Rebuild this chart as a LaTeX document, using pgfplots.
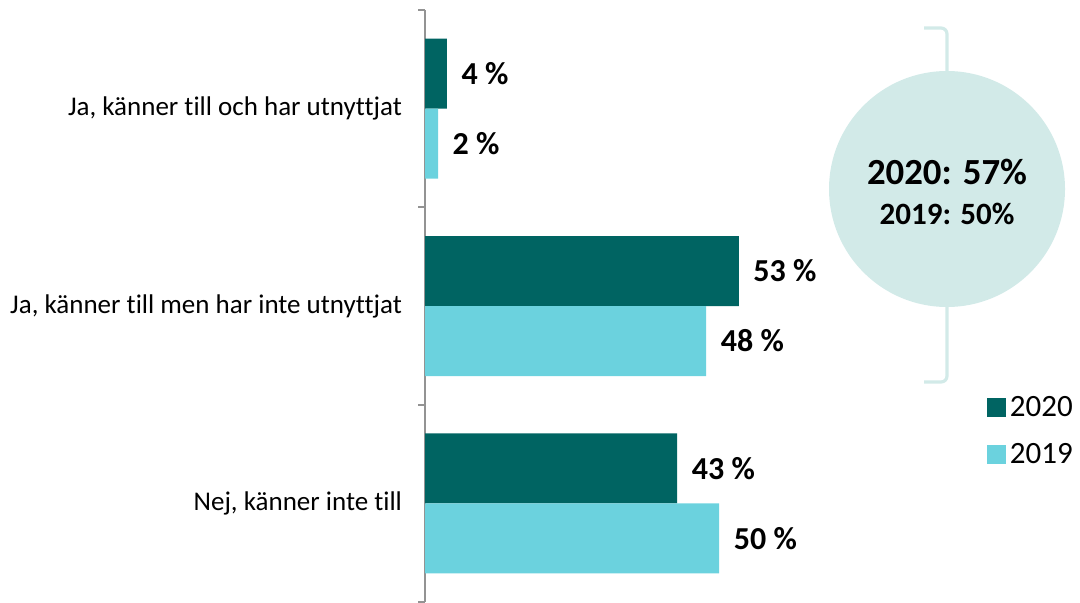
\documentclass[border=0pt]{standalone}
\usepackage{fontspec}
\setmainfont{Carlito}[Ligatures=NoCommon]
\usepackage{pgfplots}
\pgfplotsset{compat=1.18}
\definecolor{darkteal}{HTML}{006462}
\definecolor{lightteal}{HTML}{6BD2DE}
\definecolor{circ}{HTML}{D2EAE8}
\begin{document}
\begin{tikzpicture}
\useasboundingbox (0,0) rectangle (540pt,301pt);
% bracket and circle
\draw[circ, line width=1.6pt, rounded corners=3pt] (462pt,287pt) -- (473.5pt,287pt) -- (473.5pt,260pt);
\draw[circ, line width=1.6pt, rounded corners=3pt] (473.5pt,150pt) -- (473.5pt,110pt) -- (462pt,110pt);
\fill[circ] (473.5pt,206.5pt) circle (59pt);
\node[font=\bfseries\fontsize{18.4}{22}\selectfont, inner sep=0pt] at (473.5pt,215.25pt) {2020: 57\%};
\node[font=\bfseries\fontsize{15.5}{19}\selectfont, inner sep=0pt] at (473.5pt,194.25pt) {2019: 50\%};
\begin{axis}[
  at={(212.5pt,0pt)}, anchor=south west,
  scale only axis, width=325pt, height=296pt,
  xmin=0, xmax=109.8, ymin=0, ymax=3,
  hide x axis, axis y line*=left,
  y axis line style={color=gray!85, line width=1pt},
  every tick/.style={color=gray!85, line width=1pt},
  tick align=outside, major tick length=3.5pt,
  ytick={0,1,2,3}, yticklabels={},
  extra y ticks={0.5,1.5,2.5},
  extra y tick labels={{Nej, känner inte till},{Ja, känner till men har inte utnyttjat},{Ja, känner till och har utnyttjat}},
  extra y tick style={major tick length=0pt},
  yticklabel style={font=\fontsize{13.5}{16}\selectfont, xshift=-8pt},
  legend style={draw=none, fill=none, inner sep=0pt, outer sep=0pt,
    at={(0.8646,0.3547)}, anchor=north west,
    font=\fontsize{15.5}{19}\selectfont, row sep=8pt,
    legend cell align=left, nodes={xshift=1.5pt}},
  nodes near coords style={font=\bfseries\fontsize{16}{19}\selectfont, anchor=west, xshift=3.8pt, text=black},
]
\addplot[xbar, bar width=0.3547, bar shift=0.17735, fill=darkteal, draw=none,
  nodes near coords, point meta=explicit symbolic,
  every node near coord/.append style={yshift=17.5pt},
  legend image code/.code={\fill[darkteal] (0pt,-4.75pt) rectangle (9.5pt,4.75pt);}]
  coordinates {(3.7,2.5)[4 \%] (53,1.5)[53 \%] (42.6,0.5)[43 \%]};
\addlegendentry{2020}
\addplot[xbar, bar width=0.3547, bar shift=-0.17735, fill=lightteal, draw=none,
  nodes near coords, point meta=explicit symbolic,
  every node near coord/.append style={yshift=-17.5pt},
  legend image code/.code={\fill[lightteal] (0pt,-4.75pt) rectangle (9.5pt,4.75pt);}]
  coordinates {(2.2,2.5)[2 \%] (47.5,1.5)[48 \%] (49.7,0.5)[50 \%]};
\addlegendentry{2019}
\end{axis}
\end{tikzpicture}
\end{document}
